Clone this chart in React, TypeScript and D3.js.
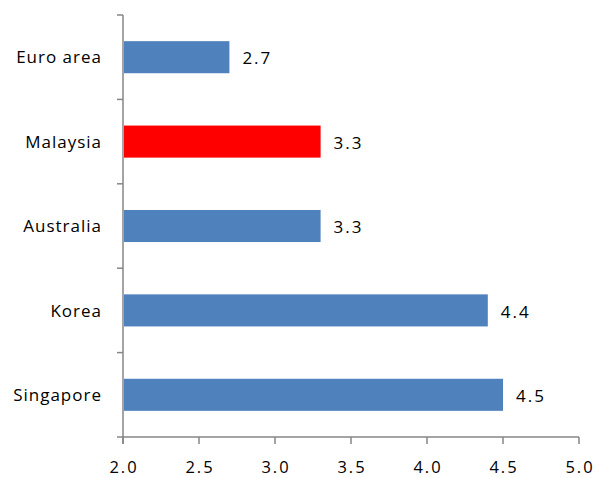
import React from "react";
import * as d3 from "d3";

const categories = ["Euro area", "Malaysia", "Australia", "Korea", "Singapore"];
const values = [2.7, 3.3, 3.3, 4.4, 4.5];
const highlighted = ["Malaysia"];
const xTicks = [2.0, 2.5, 3.0, 3.5, 4.0, 4.5, 5.0];

const W = 597;
const H = 478;
const margin = { left: 123, right: 18, top: 15, bottom: 41 };

export default function App() {
  const x = d3.scaleLinear().domain([2, 5]).range([margin.left, W - margin.right]);
  const y = d3
    .scaleBand<string>()
    .domain(categories)
    .range([margin.top, H - margin.bottom])
    .paddingInner(0.62)
    .paddingOuter(0.31);
  const step = y.step();
  const axisColor = "#868686";
  const font = "'Open Sans', 'Noto Sans', sans-serif";
  const bottom = H - margin.bottom;

  return (
    <svg
      width={W}
      height={H}
      style={{ position: "absolute", left: 0, top: 0, background: "#fff" }}
      fontFamily={font}
    >
      {categories.map((c, i) => {
        const v = values[i];
        const yy = y(c)!;
        return (
          <g key={c}>
            <rect
              x={x(2) + 1}
              y={yy}
              width={x(v) - x(2) - 1}
              height={y.bandwidth()}
              fill={highlighted.includes(c) ? "#FF0000" : "#4F81BD"}
            />
            <text
              x={x(v) + 13}
              y={yy + y.bandwidth() / 2 + 1}
              dy="0.36em"
              fontSize={17}
              letterSpacing={2}
              fill="#000"
            >
              {d3.format(".1f")(v)}
            </text>
            <text
              x={margin.left - 21}
              y={yy + y.bandwidth() / 2}
              dy="0.36em"
              textAnchor="end"
              fontSize={17}
              letterSpacing={1}
              fill="#000"
            >
              {c}
            </text>
          </g>
        );
      })}
      {/* category axis */}
      <line x1={margin.left} x2={margin.left} y1={margin.top} y2={bottom + 7} stroke={axisColor} strokeWidth={1.5} />
      {d3.range(categories.length + 1).map((k) => (
        <line
          key={k}
          x1={margin.left - 6}
          x2={margin.left}
          y1={margin.top + k * step}
          y2={margin.top + k * step}
          stroke={axisColor}
          strokeWidth={1.5}
        />
      ))}
      {/* value axis */}
      <line x1={margin.left} x2={W - margin.right} y1={bottom} y2={bottom} stroke={axisColor} strokeWidth={1.5} />
      {xTicks.map((t) => (
        <g key={t}>
          <line x1={x(t)} x2={x(t)} y1={bottom} y2={bottom + 7} stroke={axisColor} strokeWidth={1.5} />
          <text
            x={x(t) + 1}
            y={bottom + 36}
            textAnchor="middle"
            fontSize={16.5}
            letterSpacing={2}
            fill="#000"
          >
            {d3.format(".1f")(t)}
          </text>
        </g>
      ))}
    </svg>
  );
}
